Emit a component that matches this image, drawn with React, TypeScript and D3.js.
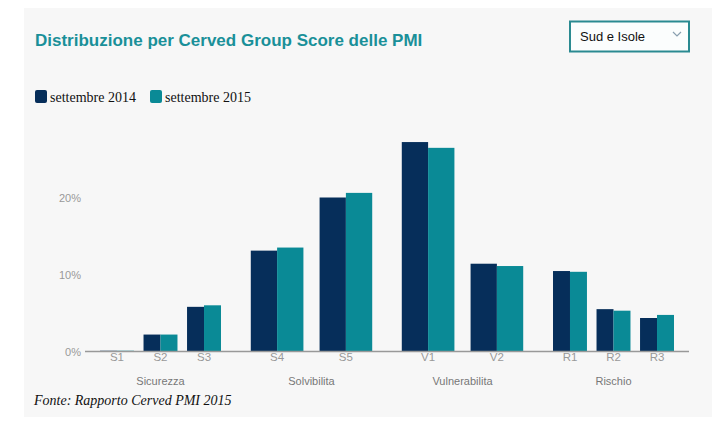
import React from "react";
import * as d3 from "d3";

const groups = ["Sicurezza", "Solvibilita", "Vulnerabilita", "Rischio"];
const categories = ["S1", "S2", "S3", "S4", "S5", "V1", "V2", "R1", "R2", "R3"];
const categoryGroup = ["Sicurezza", "Sicurezza", "Sicurezza", "Solvibilita", "Solvibilita", "Vulnerabilita", "Vulnerabilita", "Rischio", "Rischio", "Rischio"];
const series2014 = [0.1, 2.2, 5.8, 13.1, 20.0, 27.2, 11.4, 10.45, 5.5, 4.35];
const series2015 = [0.1, 2.2, 6.0, 13.5, 20.6, 26.45, 11.1, 10.35, 5.3, 4.75];
const seriesNames = ["settembre 2014", "settembre 2015"];
const yTicks = [0, 10, 20];
const title = "Distribuzione per Cerved Group Score delle PMI";
const selectLabel = "Sud e Isole";
const source = "Fonte: Rapporto Cerved PMI 2015";

const W = 717;
const H = 432;
const colors = ["#062e5a", "#0a8a96"];

export default function App() {
  const x0 = 85, x1 = 689;
  const yBase = 351.5;
  const y = d3.scaleLinear().domain([0, 10]).range([yBase, yBase - 77]);
  const gScale = d3.scaleBand<string>().domain(groups).range([x0, x1]).padding(0);

  const inner: Record<string, d3.ScaleBand<string>> = {};
  groups.forEach((g) => {
    const cats = categories.filter((_, i) => categoryGroup[i] === g);
    const gx = gScale(g)!;
    const n = cats.length;
    inner[g] = d3
      .scaleBand<string>()
      .domain(cats)
      .range([gx, gx + gScale.bandwidth()])
      .paddingInner(n === 3 ? 0.22 : 0.235)
      .paddingOuter(n === 3 ? 0.345 : 0.215);
  });
  const sub = d3.scaleBand<string>().domain(seriesNames).range([0, 1]);

  const font = "'Liberation Sans', Arial, sans-serif";
  const serif = "'Liberation Serif', 'Times New Roman', serif";

  return (
    <svg width={W} height={H} style={{ position: "absolute", left: 0, top: 0 }}>
      <rect x={0} y={0} width={W} height={H} fill="#ffffff" />
      <rect x={24} y={8} width={688} height={409} fill="#f7f7f7" />
      <text x={35} y={46} fill="#1a9099" fontFamily={font} fontWeight="bold" fontSize={17}>
        {title}
      </text>
      <rect x={570} y={21.5} width={119} height={30} fill="#fbfdfd" stroke="#2a8a91" strokeWidth={2} />
      <text x={580} y={41} fill="#111" fontFamily={font} fontSize={13}>
        {selectLabel}
      </text>
      <path d="M673,32 L677,36 L681,32" fill="none" stroke="#8aa0b0" strokeWidth={1.2} />

      {seriesNames.map((s, i) => (
        <g key={s} transform={`translate(${i === 0 ? 35 : 150},90)`}>
          <rect x={0} y={0} width={12} height={13} rx={2} fill={colors[i]} />
          <text x={15} y={11.5} fill="#111" fontFamily={serif} fontSize={14}>
            {s}
          </text>
        </g>
      ))}

      {yTicks.map((t) => (
        <text key={t} x={81} y={y(t) + 4} textAnchor="end" fill="#999" fontFamily={font} fontSize={11}>
          {t}%
        </text>
      ))}

      {categories.map((c, i) => {
        const sc = inner[categoryGroup[i]];
        const bx = sc(c)!;
        const bw = sc.bandwidth();
        return (
          <g key={c}>
            {[series2014[i], series2015[i]].map((v, k) => (
              <rect
                key={k}
                x={bx + sub(seriesNames[k])! * bw}
                y={y(v)}
                width={bw * sub.bandwidth()}
                height={yBase - y(v)}
                fill={colors[k]}
              />
            ))}
            <text x={bx + bw / 2} y={361} textAnchor="middle" fill="#999" fontFamily={font} fontSize={11.5}>
              {c}
            </text>
          </g>
        );
      })}

      <line x1={x0} x2={x1} y1={yBase} y2={yBase} stroke="#999" strokeWidth={1.5} />

      {groups.map((g) => (
        <text
          key={g}
          x={gScale(g)! + gScale.bandwidth() / 2}
          y={385}
          textAnchor="middle"
          fill="#777"
          fontFamily={font}
          fontSize={11}
        >
          {g}
        </text>
      ))}

      <text x={34} y={405} fill="#111" fontFamily={serif} fontStyle="italic" fontSize={14}>
        {source}
      </text>
    </svg>
  );
}
